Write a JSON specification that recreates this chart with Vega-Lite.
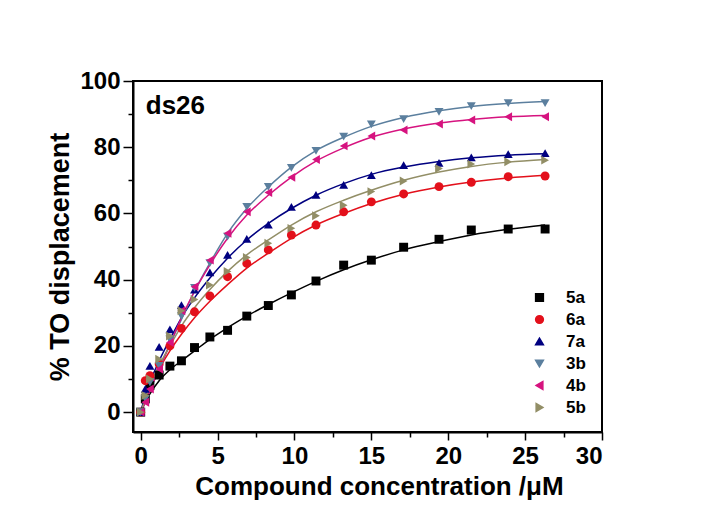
{
  "$schema": "https://vega.github.io/schema/vega-lite/v6.json",
  "autosize": {"type": "none"},
  "padding": {"left": 133, "top": 81, "right": 106, "bottom": 94},
  "width": 469,
  "height": 351,
  "background": "white",
  "view": {"stroke": "black", "strokeWidth": 2},
  "config": {
    "font": "Liberation Sans",
    "axis": {"labelFont": "Liberation Sans", "labelFontWeight": "bold", "labelColor": "black", "titleFont": "Liberation Sans", "titleFontWeight": "bold", "titleColor": "black", "domainColor": "black", "domainWidth": 2, "tickColor": "black", "tickWidth": 1.5, "grid": false},
    "legend": {"labelFont": "Liberation Sans", "labelFontWeight": "bold", "labelColor": "black", "labelFontSize": 17, "labelOffset": 18, "symbolSize": 60, "rowPadding": 4, "padding": 0}
  },
  "datasets": {
    "pts": [
      {"s":"5a","x":0,"y":0},{"s":"5a","x":0.3,"y":4},{"s":"5a","x":0.6,"y":8},{"s":"5a","x":1.2,"y":11.2},{"s":"5a","x":1.9,"y":13.9},{"s":"5a","x":2.65,"y":15.5},{"s":"5a","x":3.5,"y":19.5},{"s":"5a","x":4.5,"y":22.7},{"s":"5a","x":5.65,"y":24.7},{"s":"5a","x":6.9,"y":29},{"s":"5a","x":8.3,"y":32.2},{"s":"5a","x":9.8,"y":35.4},{"s":"5a","x":11.4,"y":39.6},{"s":"5a","x":13.2,"y":44.4},{"s":"5a","x":15,"y":45.9},{"s":"5a","x":17.1,"y":49.8},{"s":"5a","x":19.4,"y":52.2},{"s":"5a","x":21.5,"y":55},{"s":"5a","x":23.9,"y":55.3},{"s":"5a","x":26.3,"y":55.3},
      {"s":"6a","x":0,"y":0},{"s":"6a","x":0.3,"y":9.5},{"s":"6a","x":0.6,"y":11},{"s":"6a","x":1.2,"y":14.5},{"s":"6a","x":1.9,"y":20},{"s":"6a","x":2.65,"y":25.3},{"s":"6a","x":3.5,"y":30.3},{"s":"6a","x":4.5,"y":35.1},{"s":"6a","x":5.65,"y":40.9},{"s":"6a","x":6.9,"y":44.9},{"s":"6a","x":8.3,"y":49},{"s":"6a","x":9.8,"y":53.5},{"s":"6a","x":11.4,"y":56.5},{"s":"6a","x":13.2,"y":60.5},{"s":"6a","x":15,"y":63.5},{"s":"6a","x":17.1,"y":65.9},{"s":"6a","x":19.4,"y":68.1},{"s":"6a","x":21.5,"y":69.4},{"s":"6a","x":23.9,"y":71.1},{"s":"6a","x":26.3,"y":71.3},
      {"s":"7a","x":0,"y":0},{"s":"7a","x":0.3,"y":7},{"s":"7a","x":0.6,"y":14},{"s":"7a","x":1.2,"y":19.7},{"s":"7a","x":1.9,"y":25},{"s":"7a","x":2.65,"y":32.3},{"s":"7a","x":3.5,"y":37},{"s":"7a","x":4.5,"y":42.2},{"s":"7a","x":5.65,"y":47.5},{"s":"7a","x":6.9,"y":52.3},{"s":"7a","x":8.3,"y":56.6},{"s":"7a","x":9.8,"y":62},{"s":"7a","x":11.4,"y":65.6},{"s":"7a","x":13.2,"y":68.6},{"s":"7a","x":15,"y":71.6},{"s":"7a","x":17.1,"y":74.6},{"s":"7a","x":19.4,"y":75.3},{"s":"7a","x":21.5,"y":76.9},{"s":"7a","x":23.9,"y":77.9},{"s":"7a","x":26.3,"y":78.2},
      {"s":"3b","x":0,"y":0},{"s":"3b","x":0.3,"y":4},{"s":"3b","x":0.6,"y":9},{"s":"3b","x":1.2,"y":14},{"s":"3b","x":1.9,"y":22},{"s":"3b","x":2.65,"y":29},{"s":"3b","x":3.5,"y":37.5},{"s":"3b","x":4.5,"y":45},{"s":"3b","x":5.65,"y":53},{"s":"3b","x":6.9,"y":62},{"s":"3b","x":8.3,"y":68},{"s":"3b","x":9.8,"y":73.8},{"s":"3b","x":11.4,"y":78.9},{"s":"3b","x":13.2,"y":83.2},{"s":"3b","x":15,"y":86.9},{"s":"3b","x":17.1,"y":88.5},{"s":"3b","x":19.4,"y":90.7},{"s":"3b","x":21.5,"y":92.4},{"s":"3b","x":23.9,"y":93.3},{"s":"3b","x":26.3,"y":93.3},
      {"s":"4b","x":0,"y":0},{"s":"4b","x":0.3,"y":3},{"s":"4b","x":0.6,"y":7},{"s":"4b","x":1.2,"y":13},{"s":"4b","x":1.9,"y":21},{"s":"4b","x":2.65,"y":30.6},{"s":"4b","x":3.5,"y":37.9},{"s":"4b","x":4.5,"y":45.9},{"s":"4b","x":5.65,"y":54},{"s":"4b","x":6.9,"y":60.5},{"s":"4b","x":8.3,"y":66.3},{"s":"4b","x":9.8,"y":70.9},{"s":"4b","x":11.4,"y":76.3},{"s":"4b","x":13.2,"y":80.4},{"s":"4b","x":15,"y":83.4},{"s":"4b","x":17.1,"y":85.2},{"s":"4b","x":19.4,"y":87},{"s":"4b","x":21.5,"y":88.2},{"s":"4b","x":23.9,"y":89.2},{"s":"4b","x":26.3,"y":89.2},
      {"s":"5b","x":0,"y":0},{"s":"5b","x":0.3,"y":5},{"s":"5b","x":0.6,"y":10},{"s":"5b","x":1.2,"y":16},{"s":"5b","x":1.9,"y":23},{"s":"5b","x":2.65,"y":30.6},{"s":"5b","x":3.5,"y":34},{"s":"5b","x":4.5,"y":38.4},{"s":"5b","x":5.65,"y":42.5},{"s":"5b","x":6.9,"y":46.7},{"s":"5b","x":8.3,"y":51},{"s":"5b","x":9.8,"y":55.5},{"s":"5b","x":11.4,"y":59.3},{"s":"5b","x":13.2,"y":62.5},{"s":"5b","x":15,"y":66.6},{"s":"5b","x":17.1,"y":69.8},{"s":"5b","x":19.4,"y":73.6},{"s":"5b","x":21.5,"y":74.9},{"s":"5b","x":23.9,"y":75.6},{"s":"5b","x":26.3,"y":76.1}
    ],
    "fit": [
      {"s":"5a","x":0,"y":0},{"s":"5a","x":0.3,"y":3},{"s":"5a","x":0.6,"y":5.5},{"s":"5a","x":1.2,"y":9.5},{"s":"5a","x":1.9,"y":12.8},{"s":"5a","x":2.65,"y":15.5},{"s":"5a","x":3.5,"y":18.5},{"s":"5a","x":4.5,"y":22},{"s":"5a","x":5.65,"y":25.5},{"s":"5a","x":6.9,"y":29},{"s":"5a","x":8.3,"y":32.5},{"s":"5a","x":9.8,"y":36},{"s":"5a","x":11.4,"y":39.5},{"s":"5a","x":13.2,"y":43},{"s":"5a","x":15,"y":46},{"s":"5a","x":17.1,"y":49},{"s":"5a","x":19.4,"y":51.5},{"s":"5a","x":21.5,"y":53.5},{"s":"5a","x":23.9,"y":55.2},{"s":"5a","x":26.3,"y":56.5},
      {"s":"6a","x":0,"y":0},{"s":"6a","x":0.3,"y":4},{"s":"6a","x":0.6,"y":7.5},{"s":"6a","x":1.2,"y":13},{"s":"6a","x":1.9,"y":18.5},{"s":"6a","x":2.65,"y":23.5},{"s":"6a","x":3.5,"y":28.5},{"s":"6a","x":4.5,"y":33.5},{"s":"6a","x":5.65,"y":38.5},{"s":"6a","x":6.9,"y":43.5},{"s":"6a","x":8.3,"y":48},{"s":"6a","x":9.8,"y":52.5},{"s":"6a","x":11.4,"y":56.5},{"s":"6a","x":13.2,"y":60},{"s":"6a","x":15,"y":63},{"s":"6a","x":17.1,"y":65.8},{"s":"6a","x":19.4,"y":68},{"s":"6a","x":21.5,"y":69.5},{"s":"6a","x":23.9,"y":70.7},{"s":"6a","x":26.3,"y":71.5},
      {"s":"7a","x":0,"y":0},{"s":"7a","x":0.3,"y":5},{"s":"7a","x":0.6,"y":9},{"s":"7a","x":1.2,"y":15.5},{"s":"7a","x":1.9,"y":22},{"s":"7a","x":2.65,"y":28.5},{"s":"7a","x":3.5,"y":34.5},{"s":"7a","x":4.5,"y":40.5},{"s":"7a","x":5.65,"y":46.5},{"s":"7a","x":6.9,"y":52},{"s":"7a","x":8.3,"y":57},{"s":"7a","x":9.8,"y":61.5},{"s":"7a","x":11.4,"y":65.5},{"s":"7a","x":13.2,"y":69},{"s":"7a","x":15,"y":71.8},{"s":"7a","x":17.1,"y":74},{"s":"7a","x":19.4,"y":75.7},{"s":"7a","x":21.5,"y":76.8},{"s":"7a","x":23.9,"y":77.6},{"s":"7a","x":26.3,"y":78},
      {"s":"3b","x":0,"y":0},{"s":"3b","x":0.3,"y":3},{"s":"3b","x":0.6,"y":6.5},{"s":"3b","x":1.2,"y":13},{"s":"3b","x":1.9,"y":20.5},{"s":"3b","x":2.65,"y":28},{"s":"3b","x":3.5,"y":36.5},{"s":"3b","x":4.5,"y":45},{"s":"3b","x":5.65,"y":54},{"s":"3b","x":6.9,"y":61.5},{"s":"3b","x":8.3,"y":68},{"s":"3b","x":9.8,"y":74},{"s":"3b","x":11.4,"y":79},{"s":"3b","x":13.2,"y":83},{"s":"3b","x":15,"y":86.3},{"s":"3b","x":17.1,"y":89},{"s":"3b","x":19.4,"y":91},{"s":"3b","x":21.5,"y":92.3},{"s":"3b","x":23.9,"y":93.2},{"s":"3b","x":26.3,"y":93.8},
      {"s":"4b","x":0,"y":0},{"s":"4b","x":0.3,"y":3},{"s":"4b","x":0.6,"y":6.5},{"s":"4b","x":1.2,"y":13},{"s":"4b","x":1.9,"y":20.5},{"s":"4b","x":2.65,"y":28.5},{"s":"4b","x":3.5,"y":36.5},{"s":"4b","x":4.5,"y":44.5},{"s":"4b","x":5.65,"y":52.5},{"s":"4b","x":6.9,"y":59.5},{"s":"4b","x":8.3,"y":65.5},{"s":"4b","x":9.8,"y":71},{"s":"4b","x":11.4,"y":75.8},{"s":"4b","x":13.2,"y":79.8},{"s":"4b","x":15,"y":83},{"s":"4b","x":17.1,"y":85.5},{"s":"4b","x":19.4,"y":87.3},{"s":"4b","x":21.5,"y":88.4},{"s":"4b","x":23.9,"y":89.2},{"s":"4b","x":26.3,"y":89.6},
      {"s":"5b","x":0,"y":0},{"s":"5b","x":0.3,"y":4},{"s":"5b","x":0.6,"y":8},{"s":"5b","x":1.2,"y":14},{"s":"5b","x":1.9,"y":20},{"s":"5b","x":2.65,"y":26},{"s":"5b","x":3.5,"y":31.5},{"s":"5b","x":4.5,"y":37},{"s":"5b","x":5.65,"y":42.5},{"s":"5b","x":6.9,"y":47.5},{"s":"5b","x":8.3,"y":52},{"s":"5b","x":9.8,"y":56.5},{"s":"5b","x":11.4,"y":60.5},{"s":"5b","x":13.2,"y":64},{"s":"5b","x":15,"y":67},{"s":"5b","x":17.1,"y":70},{"s":"5b","x":19.4,"y":72.5},{"s":"5b","x":21.5,"y":74.2},{"s":"5b","x":23.9,"y":75.5},{"s":"5b","x":26.3,"y":76.3}
    ],
    "label": [{"t":"ds26","x":0.33,"y":90}]
  },
  "layer": [
    {
      "data": {"name": "fit"},
      "mark": {"type": "line", "interpolate": "monotone", "strokeWidth": 1.5},
      "encoding": {
        "x": {"field": "x", "type": "quantitative", "scale": {"domain": [-0.5, 30], "nice": false, "zero": false},
          "axis": {"orient": "bottom", "values": [2.5, 7.5, 12.5, 17.5, 22.5, 27.5], "labels": false, "tickSize": 5, "domain": false, "title": null}},
        "y": {"field": "y", "type": "quantitative", "scale": {"domain": [-6, 100], "nice": false, "zero": false},
          "axis": {"orient": "left", "values": [10, 30, 50, 70, 90], "labels": false, "tickSize": 5, "domain": false, "title": null}},
        "color": {"field": "s", "type": "nominal", "title": null,
          "scale": {"domain": ["5a", "6a", "7a", "3b", "4b", "5b"], "range": ["#000000", "#e3101b", "#000080", "#5b7f9e", "#d6137f", "#928e66"]},
          "legend": {"orient": "none", "legendX": 398, "legendY": 208, "title": null}}
      }
    },
    {
      "data": {"name": "pts"},
      "mark": {"type": "point", "filled": true, "opacity": 1, "size": 80},
      "encoding": {
        "x": {"field": "x", "type": "quantitative",
          "axis": {"orient": "bottom", "values": [0, 5, 10, 15, 20, 25, 30], "tickSize": 8, "labelFontSize": 24, "labelPadding": 4,
            "title": "Compound concentration /μM", "titleFontSize": 26, "titlePadding": 5, "titleX": 246}},
        "y": {"field": "y", "type": "quantitative",
          "axis": {"orient": "left", "values": [0, 20, 40, 60, 80, 100], "tickSize": 10, "labelFontSize": 24, "labelPadding": 3,
            "title": "% TO displacement", "titleFontSize": 27, "titlePadding": 5}},
        "color": {"field": "s", "type": "nominal", "title": null,
          "legend": {"orient": "none", "legendX": 398, "legendY": 208, "title": null}},
        "shape": {"field": "s", "type": "nominal", "title": null,
          "scale": {"domain": ["5a", "6a", "7a", "3b", "4b", "5b"], "range": ["square", "circle", "triangle-up", "triangle-down", "triangle-left", "triangle-right"]},
          "legend": {"orient": "none", "legendX": 398, "legendY": 208, "title": null}}
      }
    },
    {
      "data": {"name": "label"},
      "mark": {"type": "text", "align": "left", "baseline": "alphabetic", "fontSize": 26, "fontWeight": "bold", "font": "Liberation Sans", "color": "black"},
      "encoding": {
        "x": {"field": "x", "type": "quantitative", "axis": null},
        "y": {"field": "y", "type": "quantitative", "axis": null},
        "text": {"field": "t"}
      }
    }
  ],
  "resolve": {"axis": {"x": "independent", "y": "independent"}}
}
